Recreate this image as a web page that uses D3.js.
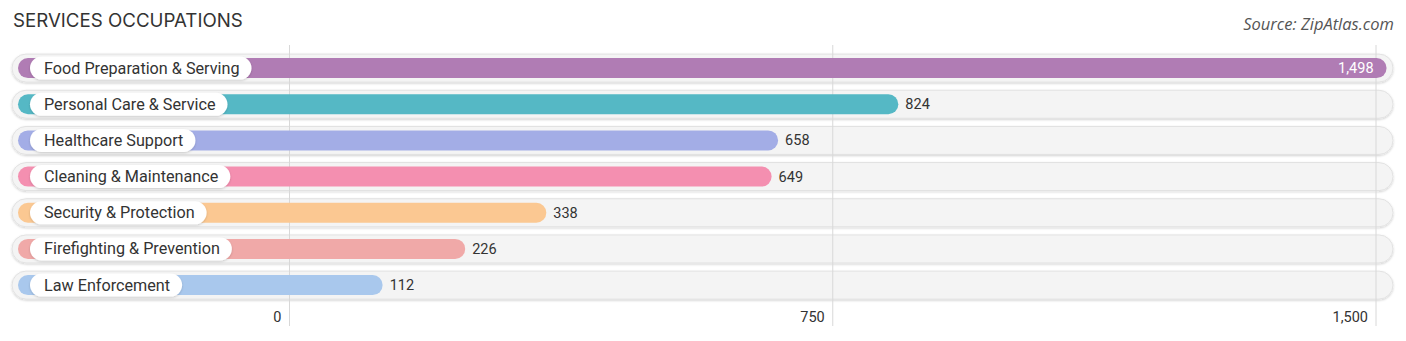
<!DOCTYPE html>
<html>
<head>
<meta charset="utf-8">
<script src="https://cdn.jsdelivr.net/npm/d3@7"></script>
<style>
  body { margin: 0; background: #fff; }
  svg { display: block; }
</style>
</head>
<body>
<svg id="chart" width="1406" height="341"></svg>
<script>
const categories = ["Food Preparation & Serving", "Personal Care & Service", "Healthcare Support", "Cleaning & Maintenance", "Security & Protection", "Firefighting & Prevention", "Law Enforcement"];
const values = [1498, 824, 658, 649, 338, 226, 112];
const colors = ["#b07cb4", "#55b8c5", "#a3ade6", "#f48fb0", "#fbc892", "#f0a9a8", "#a9c8ed"];
const tickValues = [0, 750, 1500];
const tickLabels = ["0", "750", "1,500"];

const svg = d3.select("#chart");

const x = d3.scaleLinear().domain([0, 1500]).range([289.5, 1376]);
const y = d3.scaleBand().domain(categories).range([50, 303.2]);

// title & source
svg.append("text").attr("x", 13).attr("y", 27)
  .attr("font-family", "Inter, 'Open Sans', sans-serif").attr("font-size", 18.7)
  .attr("fill", "#333").text("SERVICES OCCUPATIONS");
svg.append("text").attr("x", 1394).attr("y", 30).attr("text-anchor", "end")
  .attr("font-family", "'Open Sans', sans-serif").attr("font-style", "italic").attr("font-size", 16.5)
  .attr("fill", "#555").text("Source: ZipAtlas.com");

const defs = svg.append("defs");
const f = defs.append("filter").attr("id", "sh").attr("x", "-5%").attr("y", "-30%").attr("width", "110%").attr("height", "160%");
f.append("feDropShadow").attr("dx", 0).attr("dy", 1).attr("stdDeviation", 1.2).attr("flood-color", "#000").attr("flood-opacity", 0.18);

// background pills
svg.append("g").selectAll("rect.bg").data(categories).join("rect").attr("class", "bg")
  .attr("x", 12).attr("width", 1393 - 12)
  .attr("y", d => y(d) + y.bandwidth() / 2 - 14).attr("height", 28)
  .attr("rx", 14).attr("fill", "#f4f4f4").attr("stroke", "#e2e2e2").attr("stroke-width", 1)
  .attr("filter", "url(#sh)");

// gridlines
svg.append("g").selectAll("line").data(tickValues).join("line")
  .attr("x1", d => x(d)).attr("x2", d => x(d)).attr("y1", 45).attr("y2", 326)
  .attr("stroke", "#d8d8d8").attr("stroke-width", 1);

// bars
const data = categories.map((c, i) => ({ c, v: values[i], col: colors[i] }));
svg.append("g").selectAll("rect").data(data).join("rect")
  .attr("x", 18).attr("width", d => x(d.v) + 12 - 18)
  .attr("y", d => y(d.c) + y.bandwidth() / 2 - 10).attr("height", 20)
  .attr("rx", 10).attr("fill", d => d.col);

// label pills
const lg = svg.append("g").selectAll("g").data(data).join("g");
lg.append("text")
  .attr("x", 44).attr("y", d => y(d.c) + y.bandwidth() / 2 + 5.5)
  .attr("font-family", "Roboto, sans-serif").attr("font-size", 16.2).attr("fill", "#333")
  .text(d => d.c);
lg.each(function(d) {
  const g = d3.select(this);
  const w = g.select("text").node().getComputedTextLength();
  g.insert("rect", "text")
    .attr("x", 30).attr("width", w + 26)
    .attr("y", y(d.c) + y.bandwidth() / 2 - 11.5).attr("height", 23)
    .attr("rx", 11.5).attr("fill", "#fff")
    .attr("filter", "url(#sh)");
});

// value labels
svg.append("g").selectAll("text").data(data).join("text")
  .attr("x", d => d.v > 1200 ? x(d.v) - 1 : x(d.v) + 19)
  .attr("y", d => y(d.c) + y.bandwidth() / 2 + 5)
  .attr("text-anchor", d => d.v > 1200 ? "end" : "start")
  .attr("font-family", "Roboto, sans-serif").attr("font-size", 14.5)
  .attr("fill", d => d.v > 1200 ? "#fff" : "#333")
  .text(d => d3.format(",")(d.v));

// axis tick labels
svg.append("g").selectAll("text").data(tickValues).join("text")
  .attr("x", d => x(d) - 8).attr("y", 322).attr("text-anchor", "end")
  .attr("font-family", "Roboto, sans-serif").attr("font-size", 14.5).attr("fill", "#333")
  .text((d, i) => tickLabels[i]);
</script>
</body>
</html>
